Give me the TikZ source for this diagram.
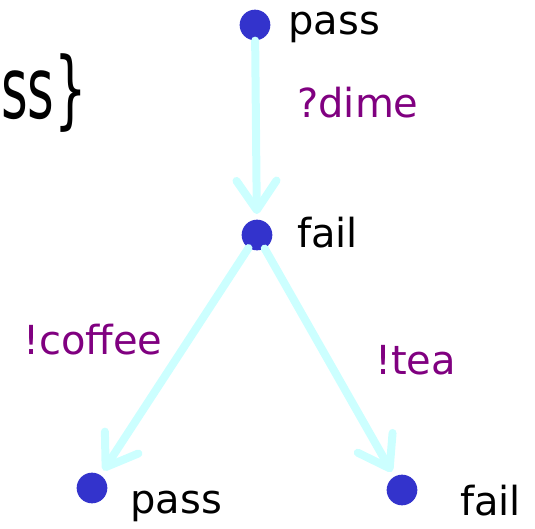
\documentclass[tikz,border=0pt]{standalone}
\usepackage{fontspec}
\usepackage{graphicx}
\setmainfont{DejaVu Sans}
\usetikzlibrary{arrows.meta}

\definecolor{dotblue}{RGB}{51,51,204}
\definecolor{trcyan}{RGB}{204,255,255}
\definecolor{actpurple}{RGB}{128,0,128}

\tikzset{
  state/.style={circle, fill=dotblue, draw=none, inner sep=0pt, minimum size=23pt},
  trans/.style={draw=trcyan, line width=6pt, line cap=round, line join=round,
    -{Straight Barb[length=22pt, width=30pt, line cap=round, line join=round]}, shorten >=4pt},
  verdict/.style={anchor=west, inner sep=0pt, font=\fontsize{30}{34}\selectfont},
  action/.style={anchor=west, inner sep=0pt, text=actpurple, font=\fontsize{30}{34}\selectfont}
}

\begin{document}
\begin{tikzpicture}[x=0.75pt,y=0.75pt,yscale=-1,xscale=1]
\path[use as bounding box] (0,0) rectangle (535,528);

% tail of the set written on the left
\node[anchor=base west, inner sep=0pt, font=\fontsize{64}{70}\selectfont] (settail) at (1,118) {\scalebox{0.6}[1]{ss\}}};

% states
\node[state] (s0) at (255,25) {};
\node[state] (s1) at (257,235) {};
\node[state] (s2) at (92,488) {};
\node[state] (s3) at (402,490) {};

% verdicts
\node[verdict] (v0) at (288,27) {pass};
\node[verdict] (v1) at (297,233) {fail};
\node[verdict] (v2) at (130,506) {pass};
\node[verdict] (v3) at (460,501) {fail};

% transitions
\draw[trans] (s0) -- (s1);
\draw[trans] (s1) -- (s2);
\draw[trans] (s1) -- (s3);

% actions
\node[action] (a0) at (297,103) {?dime};
\node[action] (a1) at (23,340) {!coffee};
\node[action] (a2) at (375,360) {!tea};

\end{tikzpicture}
\end{document}
